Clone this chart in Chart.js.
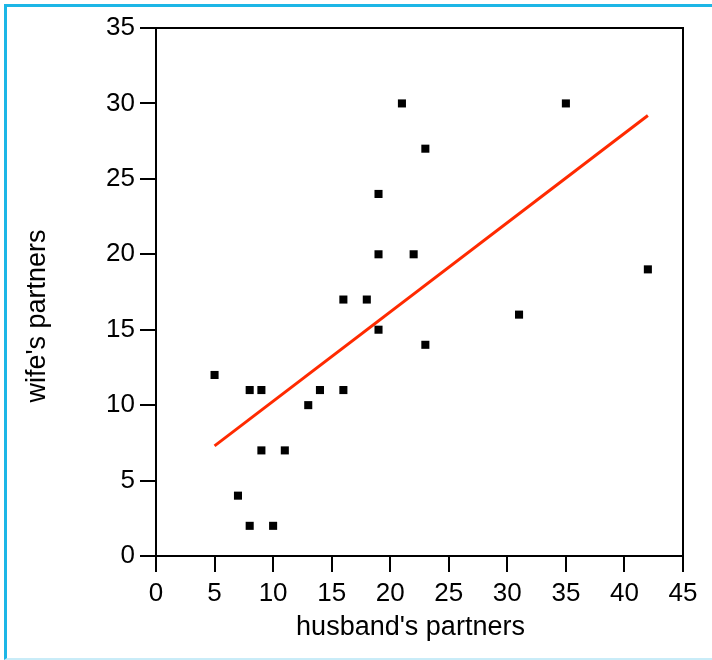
<!DOCTYPE html>
<html>
<head>
<meta charset="utf-8">
<script src="https://cdn.jsdelivr.net/npm/chart.js@4/dist/chart.umd.min.js"></script>
<style>
  html, body { margin: 0; padding: 0; background: #fff; }
  #wrap { position: relative; width: 712px; height: 660px; overflow: hidden; }
  #frame {
    position: absolute; left: 4px; top: 4px; width: 800px; height: 656px;
    border-top: 3px solid #1cb6e6; border-left: 3px solid #1cb6e6;
    border-bottom: 2px solid #c9ecf8; box-sizing: border-box;
  }
  canvas { position: absolute; left: 0; top: 0; }
</style>
</head>
<body>
<div id="wrap">
  <div id="frame"></div>
  <canvas id="chart" width="712" height="660"></canvas>
</div>
<script>
// husband's vs wife's number of partners, one entry per couple
const husband = [5, 7, 8, 10, 8, 9, 9, 11, 13, 14, 16, 16, 18, 19, 19, 19, 21, 22, 23, 23, 31, 35, 42];
const wife    = [12, 4, 2, 2, 11, 11, 7, 7, 10, 11, 11, 17, 17, 15, 20, 24, 30, 20, 27, 14, 16, 30, 19];

// fitted line, ends
const fitX = [5, 42];
const fitY = [7.3, 29.2];

const xTicks = [0, 5, 10, 15, 20, 25, 30, 35, 40, 45];
const yTicks = [0, 5, 10, 15, 20, 25, 30, 35];

const xTitle = "husband's partners";
const yTitle = "wife's partners";

const fontFamily = "'Liberation Sans', Arial, sans-serif";
const tickFont = { family: fontFamily, size: 26 };

// box around the plot area plus the two axis titles
const boxFrame = {
    id: "boxFrame",
    afterDraw(chart) {
        const { ctx, chartArea: a } = chart;
        ctx.save();
        ctx.strokeStyle = "#000";
        ctx.lineWidth = 2;
        ctx.strokeRect(a.left, a.top, a.right - a.left, a.bottom - a.top);

        ctx.fillStyle = "#000";
        ctx.font = "27px " + fontFamily;
        ctx.textAlign = "center";
        ctx.textBaseline = "middle";
        ctx.fillText(xTitle, (a.left + a.right) / 2 - 9, a.bottom + 72);

        ctx.translate(38, (a.top + a.bottom) / 2 + 24);
        ctx.rotate(-Math.PI / 2);
        ctx.fillText(yTitle, 0, 0);
        ctx.restore();
    },
};

new Chart(document.getElementById("chart"), {
    type: "scatter",
    data: {
        datasets: [
            {
                data: husband.map((h, i) => ({ x: h, y: wife[i] })),
                pointStyle: "rect",
                pointRadius: 5.7,
                pointBackgroundColor: "#000",
                pointBorderWidth: 0,
            },
            {
                type: "line",
                data: fitX.map((x, i) => ({ x: x, y: fitY[i] })),
                borderColor: "#ff2a00",
                borderWidth: 3,
                pointRadius: 0,
                fill: false,
            },
        ],
    },
    options: {
        responsive: false,
        animation: false,
        layout: { padding: { left: 18, top: 28, right: 29, bottom: 13 } },
        plugins: { legend: { display: false }, tooltip: { enabled: false } },
        scales: {
            x: {
                type: "linear",
                min: 0,
                max: 45,
                afterBuildTicks: (s) => { s.ticks = xTicks.map((v) => ({ value: v })); },
                afterFit: (s) => { s.height = 91; },
                ticks: { color: "#000", font: tickFont, padding: 6, maxRotation: 0 },
                grid: { drawOnChartArea: false, color: "#000", lineWidth: 2, tickLength: 16 },
                border: { color: "#000", width: 2 },
            },
            y: {
                type: "linear",
                min: 0,
                max: 35,
                afterBuildTicks: (s) => { s.ticks = yTicks.map((v) => ({ value: v })); },
                afterFit: (s) => { s.width = 138; },
                ticks: { color: "#000", font: tickFont, padding: 5 },
                grid: { drawOnChartArea: false, color: "#000", lineWidth: 2, tickLength: 16 },
                border: { color: "#000", width: 2 },
            },
        },
    },
    plugins: [boxFrame],
});
</script>
</body>
</html>
